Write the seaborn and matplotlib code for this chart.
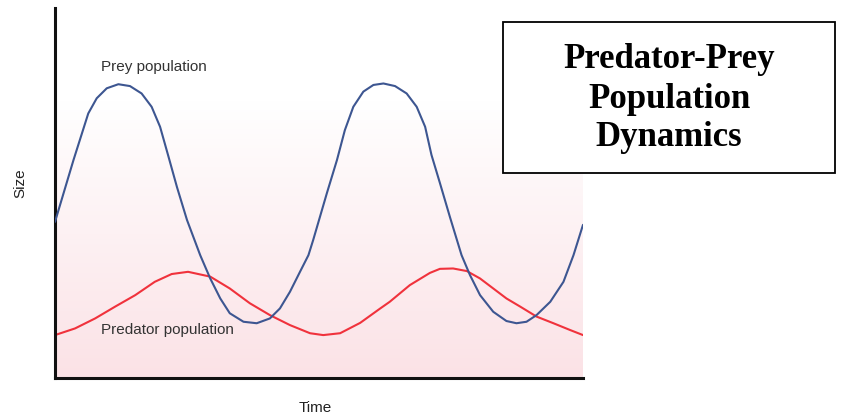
import numpy as np
import pandas as pd
import matplotlib.pyplot as plt
import seaborn as sns
from matplotlib.colors import LinearSegmentedColormap
from matplotlib.patches import Rectangle

# Valores (tiempo 0-100, tamaño 0-100)
tiempo_presa = [0, 3.5, 5.1, 6.3, 7.9, 9.8, 12.0, 14.2, 16.4, 18.3, 19.9, 21.5, 23.1, 25.0,
                27.5, 29.4, 31.3, 33.1, 35.7, 38.2, 40.7, 42.6, 44.5, 46.4, 48.0, 48.9, 51.5,
                53.4, 54.9, 56.5, 58.4, 60.3, 62.2, 64.4, 66.6, 68.5, 70.1, 71.3, 72.9, 74.8,
                77.0, 78.6, 80.5, 83.0, 85.5, 87.4, 89.3, 91.2, 93.8, 96.3, 98.2, 100]
presa = [42.2, 58.9, 66.1, 71.5, 75.6, 78.3, 79.4, 78.9, 76.9, 73.3, 67.9, 59.8, 51.6, 42.7,
         33.2, 26.9, 21.5, 17.5, 15.2, 14.8, 16.1, 18.8, 23.3, 28.7, 33.2, 37.3, 50.0,
         58.9, 67.0, 73.3, 77.4, 79.2, 79.6, 78.9, 76.9, 73.3, 67.9, 60.3, 52.7, 43.5,
         33.2, 27.8, 22.4, 17.9, 15.4, 14.8, 15.2, 17.0, 20.6, 26.0, 33.2, 41.4]

tiempo_depredador = [0, 3.8, 7.6, 11.4, 15.2, 18.9, 22.1, 25.2, 29.4, 33.1, 36.9, 40.7, 44.5,
                     48.3, 50.8, 54.0, 57.8, 61.6, 63.4, 67.2, 71.0, 72.9, 75.4, 78.0, 80.5,
                     83.0, 85.5, 88.1, 91.2, 94.4, 97.5, 100]
depredador = [11.6, 13.4, 16.1, 19.3, 22.4, 26.0, 28.1, 28.7, 27.4, 24.2, 20.2, 17.0, 14.3,
              12.1, 11.6, 12.1, 14.9, 18.8, 20.6, 25.1, 28.4, 29.5, 29.6, 28.9, 26.9,
              24.2, 21.5, 19.3, 16.6, 14.8, 13.0, 11.6]

sns.set_theme(style="white")
plt.rcParams['font.family'] = ['Liberation Sans', 'DejaVu Sans']

fig = plt.figure(figsize=(8.55, 4.19), dpi=100)
ax = fig.add_axes([55 / 855, 1 - 378 / 419, 528 / 855, 370 / 419])

# Fondo degradado de blanco a rosa
cmap = LinearSegmentedColormap.from_list("rosa", ["#fbe2e6", "#ffffff"])
grad = np.linspace(0, 1, 256).reshape(-1, 1)
ax.imshow(grad, cmap=cmap, origin='lower', aspect='auto',
          extent=[0, 100, 0, 75], zorder=0)

df_presa = pd.DataFrame({'Tiempo': tiempo_presa, 'Tamaño': presa})
df_dep = pd.DataFrame({'Tiempo': tiempo_depredador, 'Tamaño': depredador})
sns.lineplot(data=df_presa, x='Tiempo', y='Tamaño', color='#3d5691', linewidth=1.5,
             sort=False, ax=ax, zorder=3, solid_joinstyle='round')
sns.lineplot(data=df_dep, x='Tiempo', y='Tamaño', color='#f0323c', linewidth=1.5,
             sort=False, ax=ax, zorder=2, solid_joinstyle='round')

ax.set_xlim(0, 100)
ax.set_ylim(0, 100)
ax.set_xticks([])
ax.set_yticks([])
ax.set_xlabel("")
ax.set_ylabel("")
for lado in ['top', 'right']:
    ax.spines[lado].set_visible(False)
for lado in ['left', 'bottom']:
    ax.spines[lado].set_color('#111111')
    ax.spines[lado].set_linewidth(2.2)

ax.text(8.8, 84.0, "Prey population", fontsize=11, color='#333333', va='center', ha='left')
ax.text(8.8, 13.0, "Predator population", fontsize=11, color='#333333', va='center', ha='left')

fig.text(20 / 855, 1 - 183 / 419, "Size", rotation=90, fontsize=11, color='#222222',
         ha='center', va='center')
fig.text(315 / 855, 1 - 408 / 419, "Time", fontsize=11, color='#222222',
         ha='center', va='center')

# Cuadro del título
fig.patches.append(Rectangle((503 / 855, 1 - 173 / 419), 332 / 855, 151 / 419,
                             transform=fig.transFigure, facecolor='white',
                             edgecolor='black', linewidth=1.3, zorder=5))
fig.text(669 / 855, 1 - 99 / 419, "Predator-Prey\nPopulation\nDynamics",
         family=['Liberation Serif', 'DejaVu Serif'], fontweight='bold', fontsize=25,
         color='black', ha='center', va='center', linespacing=1.24, zorder=6)

plt.savefig('out.png', dpi=100)
